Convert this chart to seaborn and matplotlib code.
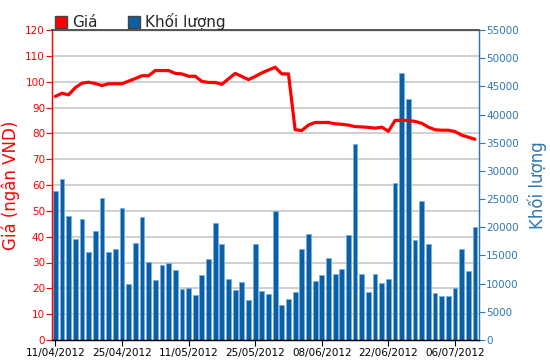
import matplotlib
matplotlib.use("Agg")
import matplotlib.pyplot as plt
import matplotlib.ticker as mticker
from matplotlib.patches import Patch
import seaborn as sns
import pandas as pd
import numpy as np

dates = ["11/04/2012", "12/04/2012", "13/04/2012", "16/04/2012", "17/04/2012", "18/04/2012",
         "19/04/2012", "20/04/2012", "23/04/2012", "24/04/2012", "25/04/2012", "26/04/2012",
         "27/04/2012", "02/05/2012", "03/05/2012", "04/05/2012", "07/05/2012", "08/05/2012",
         "09/05/2012", "10/05/2012", "11/05/2012", "14/05/2012", "15/05/2012", "16/05/2012",
         "17/05/2012", "18/05/2012", "21/05/2012", "22/05/2012", "23/05/2012", "24/05/2012",
         "25/05/2012", "28/05/2012", "29/05/2012", "30/05/2012", "31/05/2012", "01/06/2012",
         "04/06/2012", "05/06/2012", "06/06/2012", "07/06/2012", "08/06/2012", "11/06/2012",
         "12/06/2012", "13/06/2012", "14/06/2012", "15/06/2012", "18/06/2012", "19/06/2012",
         "20/06/2012", "21/06/2012", "22/06/2012", "25/06/2012", "26/06/2012", "27/06/2012",
         "28/06/2012", "29/06/2012", "02/07/2012", "03/07/2012", "04/07/2012", "05/07/2012",
         "06/07/2012", "09/07/2012", "10/07/2012", "11/07/2012"]

price = [94.3, 95.5, 94.9, 97.7, 99.4, 99.8, 99.3, 98.5, 99.2, 99.2,
         99.2, 100.2, 101.2, 102.3, 102.3, 104.3, 104.3, 104.3, 103.2, 103.0,
         102.1, 102.1, 100.1, 99.7, 99.7, 99.0, 101.1, 103.2, 102.0, 100.8,
         102.0, 103.4, 104.5, 105.6, 103.0, 103.0, 81.4, 81.1, 83.2, 84.2,
         84.2, 84.2, 83.7, 83.5, 83.2, 82.6, 82.5, 82.3, 82.0, 82.4,
         80.8, 85.0, 85.0, 85.0, 84.6, 83.9, 82.4, 81.4, 81.2, 81.2,
         80.7, 79.3, 78.5, 77.7]

volume = [26500, 28560, 22060, 17920, 21410, 15670, 19280, 25190, 15670, 16150,
          23420, 10000, 17210, 21880, 13780, 10650, 13250, 13720, 12360, 9110,
          9290, 7980, 11530, 14430, 20820, 17030, 10880, 8870, 10230, 7100,
          17030, 8630, 8220, 22830, 6210, 7270, 8580, 16150, 18750, 10410,
          11470, 14610, 11710, 12600, 18570, 34720, 11710, 8580, 11710, 10170,
          10820, 27910, 47320, 42700, 17740, 24600, 17030, 8400, 7750, 7750,
          9290, 16200, 12180, 20110]

tick_labels = ["11/04/2012", "25/04/2012", "11/05/2012", "25/05/2012",
               "08/06/2012", "22/06/2012", "06/07/2012"]

df = pd.DataFrame({"date": dates, "price": price, "volume": volume})
df["pos"] = np.arange(len(df))

sns.set_theme(style="white")
plt.rcParams["font.family"] = ["DejaVu Sans"]

RED = "#ff0000"
BLUE = "#0a5fa5"
AXBLUE = "#2f78b0"

fig = plt.figure(figsize=(5.5, 3.64), dpi=100)
ax = fig.add_axes([52 / 550, 24 / 364, 427 / 550, 310 / 364])
ax2 = ax.twinx()
ax.set_zorder(ax2.get_zorder() + 1)
ax.patch.set_visible(False)
ax2.patch.set_facecolor("white")

# volume bars (behind)
sns.barplot(data=df, x="pos", y="volume", ax=ax2, color=BLUE, saturation=1,
            width=0.72, edgecolor="#7ab0e0", linewidth=0.6, native_scale=True)
ax2.set_ylim(0, 55000)
ax2.yaxis.set_major_locator(mticker.MultipleLocator(5000))
ax2.yaxis.set_minor_locator(mticker.FixedLocator(np.linspace(0, 55000, 13)))
ax2.grid(which="minor", axis="y", color="#c8c8c8", linewidth=1.2)
ax2.grid(which="major", visible=False)
ax2.set_axisbelow(True)
ax2.tick_params(axis="y", which="minor", length=0)
ax2.tick_params(axis="y", which="major", direction="out", length=4, width=0.8,
                colors=AXBLUE, labelsize=7.5, pad=1, right=True)
ax2.set_ylabel("Khối lượng", color=AXBLUE, fontsize=12, labelpad=6)

# price line (front)
sns.lineplot(data=df, x="pos", y="price", ax=ax, color=RED, linewidth=2.3)
ax.set_ylim(0, 120)
ax.yaxis.set_major_locator(mticker.MultipleLocator(10))
ax.tick_params(axis="y", direction="out", length=4, width=0.8, colors=RED,
               labelsize=7.5, pad=1, left=True)
ax.set_ylabel("Giá (ngân VND)", color=RED, fontsize=12, labelpad=4)

ax.set_xlim(-0.5, 63.6)
pos_ticks = [dates.index(t) for t in tick_labels]
ax.set_xticks(pos_ticks)
ax.set_xticklabels(tick_labels)
ax.tick_params(axis="x", direction="out", length=4, width=0.8, colors="black",
               labelsize=7.5, pad=2, bottom=True)
ax.set_xlabel("")
ax2.set_xlabel("")

for a in (ax, ax2):
    for s in a.spines.values():
        s.set_visible(True)
        s.set_linewidth(0.9)
ax.spines["left"].set_color(RED)
ax.spines["right"].set_color(AXBLUE)
ax2.spines["right"].set_color(AXBLUE)
ax2.spines["left"].set_color(RED)
ax.spines["top"].set_color("#555555")
ax2.spines["top"].set_color("#555555")
ax.spines["bottom"].set_color("black")
ax2.spines["bottom"].set_color("black")
ax.spines["top"].set_linewidth(1.4)

handles = [Patch(facecolor=RED, edgecolor="#444444", label="Giá"),
           Patch(facecolor=BLUE, edgecolor="#444444", label="Khối lượng")]
ax.legend(handles=handles, loc="lower left", bbox_to_anchor=(0.0, 0.99), ncol=2,
          frameon=False, fontsize=11, handlelength=0.8, handleheight=0.8,
          handletextpad=0.3, columnspacing=2.0, borderaxespad=0.1, borderpad=0.1)

fig.savefig("out.png", dpi=100)
